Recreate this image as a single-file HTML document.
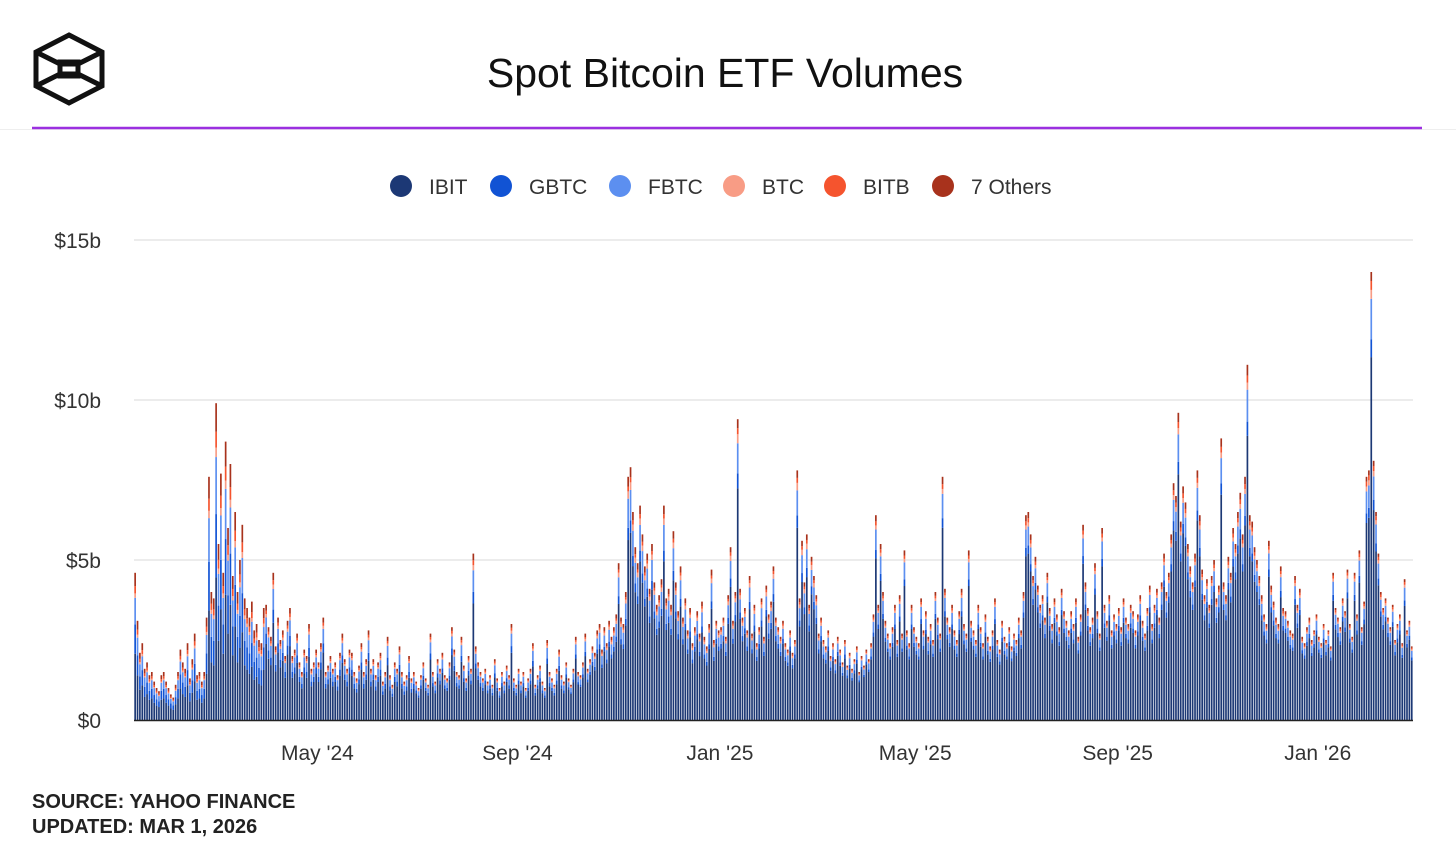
<!DOCTYPE html>
<html><head><meta charset="utf-8">
<style>
body{margin:0;background:#fff;font-family:"Liberation Sans",Arial,sans-serif;}
#wrap{position:relative;width:1456px;height:849px;overflow:hidden;}
</style></head>
<body>
<div id="wrap">
<svg id="svg" width="1456" height="849" xmlns="http://www.w3.org/2000/svg">
  <g fill="none" stroke="#111" stroke-width="5" stroke-linejoin="miter">
    <polygon points="69,35 102,52 102,86 69,103 36,86 36,52"/>
    <polyline points="36,52 60,64 78,64 102,52"/>
    <polyline points="36,86 60,74 78,74 102,86"/>
    <rect x="60" y="62" width="18" height="14"/>
  </g>
  <text x="725" y="87" text-anchor="middle" font-size="41" fill="#111">Spot Bitcoin ETF Volumes</text>
  <line x1="0" y1="129.5" x2="1456" y2="129.5" stroke="#eee" stroke-width="1"/>
  <line x1="32" y1="128" x2="1422" y2="128" stroke="#9b30e0" stroke-width="2.5"/>
  <g id="legend"></g>
  <g id="grid"></g>
  <g id="bars"></g>
  <g id="axes"></g>
  <text x="32" y="808" font-size="20" font-weight="bold" fill="#222">SOURCE: YAHOO FINANCE</text>
  <text x="32" y="833" font-size="20" font-weight="bold" fill="#222">UPDATED: MAR 1, 2026</text>
</svg>
</div>
<script>
const seriesNames=["IBIT","GBTC","FBTC","BTC","BITB","7 Others"];
const seriesColors=["#1c3875","#1153d4","#5c8ff0","#f89c85","#f5542e","#a8321c"];
const yTicks=[0,5,10,15];
const yTickLabels=["$0","$5b","$10b","$15b"];
const xTickLabels=["May '24","Sep '24","Jan '25","May '25","Sep '25","Jan '26"];
const xTickIndex=[77,161,246,328,413,497];
// daily total volume ($b)
const totals=[
4.6,3.1,2.1,2.4,1.6,1.8,1.4,1.5,1.2,1.0,0.9,1.4,1.5,1.2,
1.0,0.8,0.7,1.1,1.5,2.2,1.8,1.6,2.4,1.3,1.9,2.7,1.4,1.5,1.2,1.5,3.2,7.6,4.0,3.8,
9.9,5.5,7.7,4.6,8.7,6.0,8.0,4.5,6.5,4.0,5.0,6.1,3.8,3.5,3.2,3.7,2.8,3.0,2.5,2.4,3.5,
3.6,2.9,2.6,4.6,2.3,3.2,2.5,2.8,2.0,3.1,3.5,2.0,2.2,2.7,1.8,1.5,2.2,2.0,3.0,1.6,1.8,2.2,
1.8,2.4,3.2,1.5,1.7,2.0,1.6,1.8,1.4,2.1,2.7,1.9,1.6,2.2,2.1,1.5,1.3,1.7,2.4,1.5,1.9,2.8,
1.6,1.9,1.4,1.8,2.1,1.2,1.5,2.6,1.4,1.1,1.8,1.6,2.3,1.5,1.2,1.4,2.0,1.3,1.5,
1.2,1.0,1.4,1.8,1.3,1.1,2.7,1.5,1.2,1.9,1.6,2.1,1.4,1.3,1.8,2.9,2.2,1.5,1.4,2.6,1.7,1.3,
2.0,1.6,5.2,2.3,1.8,1.5,1.3,1.6,1.2,1.4,1.1,1.9,1.3,1.0,1.5,1.2,1.7,1.4,3.0,1.3,1.1,1.6,
1.2,1.5,1.0,1.3,1.6,2.4,1.1,1.4,1.7,1.2,1.0,2.5,1.5,1.3,1.1,1.6,2.2,1.4,1.2,1.8,
1.3,1.1,1.6,2.6,1.5,1.4,1.8,2.7,1.6,1.9,2.3,2.1,2.8,3.0,2.2,2.9,2.4,3.1,2.6,2.9,3.3,4.9,3.2,
3.0,4.0,7.6,7.9,6.5,5.4,4.9,6.7,5.8,4.8,5.2,4.1,5.5,4.3,3.6,3.9,4.4,6.7,3.8,4.1,
3.6,5.9,4.3,3.4,4.8,3.2,3.8,2.8,3.5,2.4,2.9,3.4,2.7,3.7,2.6,2.3,3.0,4.7,2.5,3.1,2.8,
2.9,3.2,2.6,3.9,5.4,3.1,4.0,9.4,4.1,3.2,3.5,2.8,4.5,2.7,3.6,2.4,2.9,3.8,2.6,4.2,3.3,
3.7,4.8,3.2,2.9,2.6,3.1,2.4,2.2,2.8,2.1,2.5,7.8,3.8,5.6,4.3,5.8,3.6,5.1,4.5,
3.9,2.7,3.2,2.5,2.3,2.8,2.0,2.4,1.9,2.6,2.2,1.8,2.5,1.7,2.1,1.6,1.9,2.3,1.5,2.0,1.7,
2.2,1.9,2.4,3.3,6.4,3.6,5.5,4.0,3.1,2.7,2.4,2.9,3.6,2.5,3.9,2.7,5.3,2.8,2.4,3.6,2.9,
2.6,2.4,3.8,2.8,3.4,2.6,3.0,2.5,4.0,3.2,2.7,7.6,4.1,3.2,2.9,3.6,2.8,2.5,3.4,4.1,3.0,
2.7,5.3,3.1,2.8,2.5,3.6,2.9,2.4,3.3,2.6,2.3,2.8,3.8,2.5,2.2,3.1,2.6,2.4,2.9,2.3,2.7,
2.5,3.2,2.8,4.0,6.4,6.5,5.8,4.5,5.1,4.2,3.6,3.9,3.2,4.6,3.5,3.0,3.8,3.3,2.9,4.1,3.4,3.1,
2.8,3.4,3.0,3.8,2.6,3.3,6.1,4.3,3.5,2.9,3.2,4.9,3.4,2.7,6.0,3.6,3.1,3.9,2.8,3.3,3.0,
3.5,2.9,3.8,3.2,3.0,3.6,3.4,2.8,3.3,3.9,3.1,2.7,3.5,4.2,3.0,3.6,4.1,3.2,4.3,5.2,4.0,
4.6,5.8,7.4,7.0,9.6,6.2,7.3,6.8,5.5,4.8,4.3,5.2,7.8,6.4,4.7,3.9,4.4,3.6,4.5,5.0,3.8,4.2,8.8,
4.3,3.9,5.1,4.6,6.0,5.5,6.5,7.1,5.8,7.6,11.1,6.4,6.2,5.4,5.0,4.5,3.9,3.3,3.0,
5.6,4.2,3.7,3.2,3.0,4.8,3.5,3.4,3.1,2.8,2.7,4.5,3.6,4.1,2.6,2.4,2.9,3.2,2.5,2.8,3.3,2.6,
2.4,3.0,2.5,2.8,2.3,4.6,3.5,3.2,2.9,3.8,3.4,4.7,3.0,2.6,4.6,3.3,5.3,2.9,3.7,7.6,
7.8,14.0,8.1,6.5,5.2,4.0,3.5,3.8,3.2,2.9,3.6,2.5,3.0,3.3,2.4,4.4,2.8,3.1,2.3
];
// per-quarter share of each fund (Q1'24 .. Q1'26)
const ibitShare  =[0.45,0.66,0.70,0.74,0.77,0.79,0.80,0.80,0.81];
const gbtcShare  =[0.20,0.09,0.07,0.05,0.05,0.04,0.04,0.04,0.04];
const fbtcShare  =[0.18,0.14,0.13,0.12,0.10,0.10,0.09,0.09,0.09];
const btcShare   =[0.03,0.03,0.03,0.03,0.03,0.02,0.02,0.02,0.02];
const bitbShare  =[0.05,0.03,0.03,0.02,0.02,0.02,0.02,0.02,0.02];
const othersShare=[0.09,0.05,0.04,0.04,0.03,0.03,0.03,0.03,0.02];
const quarterStart=[0,55,118,181,244,304,367,431,495];

const NS="http://www.w3.org/2000/svg";
const X0=134,X1=1413,Y0=720,PXB=32;
const N=totals.length;
const step=(X1-X0)/N;
const xPos=i=>X0+i*step;
const yPos=v=>Y0-v*PXB;
function mk(tag,attrs,parent){const e=document.createElementNS(NS,tag);for(const k in attrs)e.setAttribute(k,attrs[k]);parent.appendChild(e);return e;}
const grid=document.getElementById('grid'),axes=document.getElementById('axes'),bars=document.getElementById('bars'),legend=document.getElementById('legend');
yTicks.forEach((t,i)=>{
  if(t>0){const l=mk('line',{x1:X0,x2:X1,y1:yPos(t),y2:yPos(t),stroke:'#e6e6e6','stroke-width':1.5},grid);
  
  }
  const tx=mk('text',{x:101,y:yPos(t)+8,'text-anchor':'end','font-size':21,fill:'#333'},axes);
  tx.textContent=yTickLabels[i];
  
  
});
const shares=[ibitShare,gbtcShare,fbtcShare,btcShare,bitbShare,othersShare];
function quarterOf(i){let q=0;for(let k=0;k<quarterStart.length;k++)if(i>=quarterStart[k])q=k;return q;}
totals.forEach((v,i)=>{
  const q=quarterOf(i);let acc=0;
  const g=mk('g',{},bars);
  
  
  shares.forEach((s,k)=>{
    const val=v*s[q];
    const r=mk('rect',{x:xPos(i)+0.3,y:yPos(acc+val),width:Math.max(step-0.7,1),height:val*PXB,fill:seriesColors[k]},g);
    
    
    acc+=val;
  });
});
const base=mk('line',{x1:X0,x2:X1,y1:Y0+0.5,y2:Y0+0.5,stroke:'#222','stroke-width':1.5},axes);


xTickLabels.forEach((lab,i)=>{
  const tx=mk('text',{x:xPos(xTickIndex[i]),y:760,'text-anchor':'middle','font-size':21,fill:'#333'},axes);
  tx.textContent=lab;
  
  
});
const legX=[401,501,620,734,835,943];
seriesNames.forEach((n,k)=>{
  const g=mk('g',{},legend);
  
  
  mk('circle',{cx:legX[k],cy:186,r:11,fill:seriesColors[k]},g);
  const t=mk('text',{x:legX[k]+28,y:194,'font-size':21,fill:'#333'},g);
  t.textContent=n;
});
</script>
</body></html>
